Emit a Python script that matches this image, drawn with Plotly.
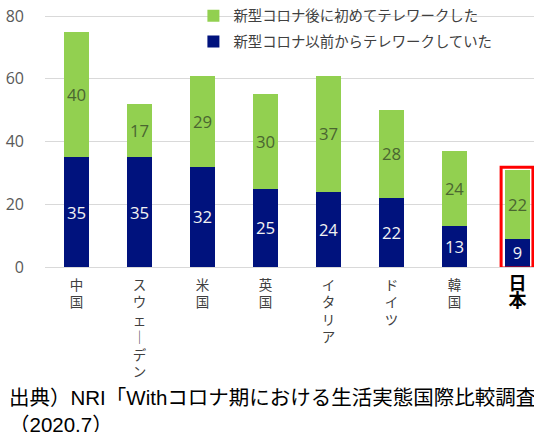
import plotly.graph_objects as go

categories = ["中国", "スウェーデン", "米国", "英国", "イタリア", "ドイツ", "韓国", "日本"]
before_covid = [35, 35, 32, 25, 24, 22, 13, 9]
after_covid = [40, 17, 29, 30, 37, 28, 24, 22]
series_names = ["新型コロナ以前からテレワークしていた", "新型コロナ後に初めてテレワークした"]
y_ticks = [0, 20, 40, 60, 80]
highlight = "日本"
source_note = "出典）NRI「Withコロナ期における生活実態国際比較調査」<br>（2020.7）"

NAVY = "#00127D"
GREEN = "#92D050"


def vertical(name, bold=False):
    chars = ["│" if c == "ー" else c for c in name]
    txt = "<br>".join(chars)
    if bold:
        return "<b><span style='color:#000000;font-size:18px'>" + txt + "</span></b>"
    return txt


tick_text = [vertical(c, bold=(c == highlight)) for c in categories]

fig = go.Figure()
fig.add_trace(go.Bar(
    x=categories, y=before_covid, name=series_names[0],
    marker=dict(color=NAVY, line=dict(width=0)),
    text=before_covid, textposition="inside", insidetextanchor="middle",
    textfont=dict(family="Open Sans", size=17, color="#F2F2F2"),
    legendgroup="a", legendrank=2,
))
fig.add_trace(go.Bar(
    x=categories, y=after_covid, name=series_names[1],
    marker=dict(color=GREEN, line=dict(width=0)),
    text=after_covid, textposition="inside", insidetextanchor="middle",
    textfont=dict(family="Open Sans", size=17, color="#4A6630"),
    legendgroup="b", legendrank=1,
))

idx = categories.index(highlight)
total = before_covid[idx] + after_covid[idx]
fig.add_shape(type="rect", xref="x", yref="y",
              x0=idx - 0.26, x1=idx + 0.245, y0=-0.3, y1=total + 0.8,
              line=dict(color="#FF0000", width=3), fillcolor="rgba(0,0,0,0)")

fig.add_annotation(text=source_note, xref="paper", yref="paper",
                   x=-38 / 489, y=-0.44, xanchor="left", yanchor="top",
                   align="left", showarrow=False,
                   font=dict(family="Liberation Sans, Noto Sans CJK JP", size=20.5, color="#000000"))

fig.update_layout(
    width=534, height=432,
    margin=dict(l=45, r=0, t=0, b=165, autoexpand=False),
    barmode="stack", bargap=0.6,
    plot_bgcolor="white", paper_bgcolor="white",
    font=dict(family="Noto Sans CJK JP", color="#404040"),
    legend=dict(x=0.3035, y=1.0, xanchor="left", yanchor="top",
                traceorder="grouped", tracegroupgap=4,
                font=dict(family="Noto Sans CJK JP", size=14.4, color="#404040"),
                bgcolor="rgba(0,0,0,0)", itemwidth=30),
    xaxis=dict(range=[-0.5, 7.262], tickvals=categories, ticktext=tick_text,
               tickangle=0, showgrid=False, showline=False, ticks="", automargin=False,
               ticklabelstandoff=8,
               tickfont=dict(family="Noto Sans CJK JP", size=13.5, color="#404040")),
    yaxis=dict(range=[0, 85.1], tickvals=y_ticks, showgrid=True, gridcolor="#D9D9D9",
               gridwidth=1, zeroline=True, zerolinecolor="#D9D9D9", zerolinewidth=1,
               ticks="", ticklabelstandoff=20, automargin=False,
               tickfont=dict(family="Open Sans", size=16, color="#595959")),
)

fig.write_html("out.html", config={"displayModeBar": False},
               post_script="document.body.style.margin='0';document.body.style.overflow='hidden';")
